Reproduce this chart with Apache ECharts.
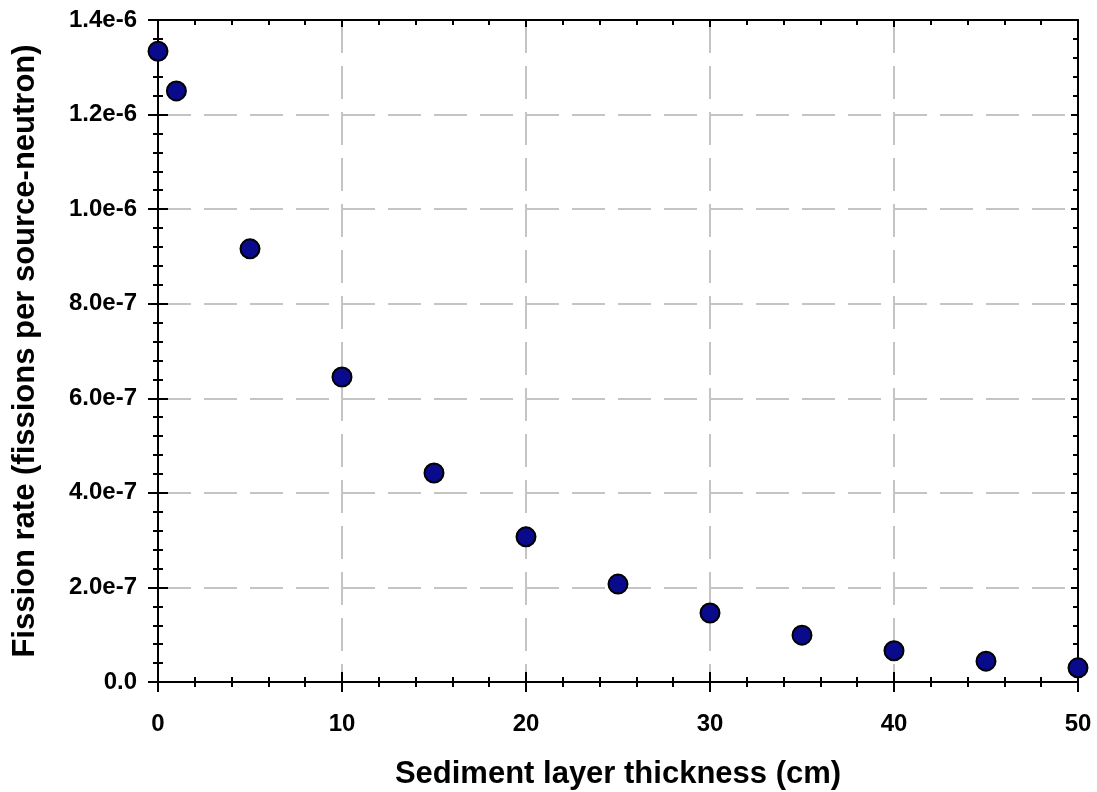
<!DOCTYPE html>
<html>
<head>
<meta charset="utf-8">
<script src="https://cdn.jsdelivr.net/npm/echarts@6/dist/echarts.min.js"></script>
<style>
  html, body { margin: 0; padding: 0; background: #fff; }
  #main { width: 1097px; height: 792px; }
</style>
</head>
<body>
<div id="main"></div>
<script>
var thickness = [0, 1, 5, 10, 15, 20, 25, 30, 35, 40, 45, 50];
var fissionRate = [1.334e-6, 1.250e-6, 0.916e-6, 0.645e-6, 0.442e-6, 0.307e-6,
                   0.207e-6, 0.146e-6, 0.099e-6, 0.066e-6, 0.044e-6, 0.030e-6];
var xTitle = 'Sediment layer thickness (cm)';
var yTitle = 'Fission rate (fissions per source-neutron)';

var myChart = echarts.init(document.getElementById('main'));

var points = thickness.map(function (t, i) { return [t, fissionRate[i]]; });
var font = 'Liberation Sans, Arial, sans-serif';

function yFmt(v) {
    if (Math.abs(v) < 1e-12) return '0.0';
    return v.toExponential(1);
}

// one axis per tick direction / side, all sharing the same scale
function xAx(pos, inside, len, extra) {
    return Object.assign({
        type: 'value', position: pos, min: 0, max: 50, interval: 10,
        axisLine: { show: true, onZero: false, lineStyle: { color: '#000', width: 2 } },
        axisTick: { show: true, inside: inside, length: len, lineStyle: { color: '#000', width: 2 } },
        minorTick: { show: true, splitNumber: 5, length: 5, lineStyle: { color: '#000', width: 2 } },
        axisLabel: { show: false },
        splitLine: { show: false }
    }, extra || {});
}
function yAx(pos, inside, len, extra) {
    return Object.assign({
        type: 'value', position: pos, min: 0, max: 1.4e-6, interval: 0.2e-6,
        axisLine: { show: true, onZero: false, lineStyle: { color: '#000', width: 2 } },
        axisTick: { show: true, inside: inside, length: len, lineStyle: { color: '#000', width: 2 } },
        minorTick: { show: true, splitNumber: 5, length: 5, lineStyle: { color: '#000', width: 2 } },
        axisLabel: { show: false },
        splitLine: { show: false }
    }, extra || {});
}

option = {
    backgroundColor: '#fff',
    animation: false,
    grid: { left: 158, right: 19, top: 20, bottom: 110, containLabel: false, outerBoundsMode: 'none' },
    xAxis: [
        xAx('bottom', false, 10, {
            name: xTitle, nameLocation: 'middle', nameGap: 77,
            nameTextStyle: { fontFamily: font, fontWeight: 'bold', fontSize: 31, color: '#000' },
            axisLabel: { show: true, margin: 30, fontFamily: font, fontWeight: 'bold', fontSize: 24, color: '#000' },
            splitLine: { show: true, lineStyle: { color: '#c4c4c4', width: 2, type: [33, 13] } }
        }),
        xAx('bottom', true, 10),
        xAx('top', true, 7)
    ],
    yAxis: [
        yAx('left', false, 10, {
            name: yTitle, nameLocation: 'middle', nameGap: 117,
            nameTextStyle: { fontFamily: font, fontWeight: 'bold', fontSize: 31, color: '#000' },
            axisLabel: { show: true, margin: 21, fontFamily: font, fontWeight: 'bold', fontSize: 24, color: '#000', formatter: yFmt },
            splitLine: { show: true, lineStyle: { color: '#c4c4c4', width: 2, type: [33, 13] } }
        }),
        yAx('left', true, 10),
        yAx('right', true, 7)
    ],
    series: [{
        type: 'scatter',
        xAxisIndex: 0,
        yAxisIndex: 0,
        data: points,
        symbol: 'circle',
        symbolSize: 19,
        itemStyle: { color: '#0a0a8c', borderColor: '#000', borderWidth: 2, opacity: 1 },
        z: 10
    }]
};

myChart.setOption(option);
</script>
</body>
</html>
